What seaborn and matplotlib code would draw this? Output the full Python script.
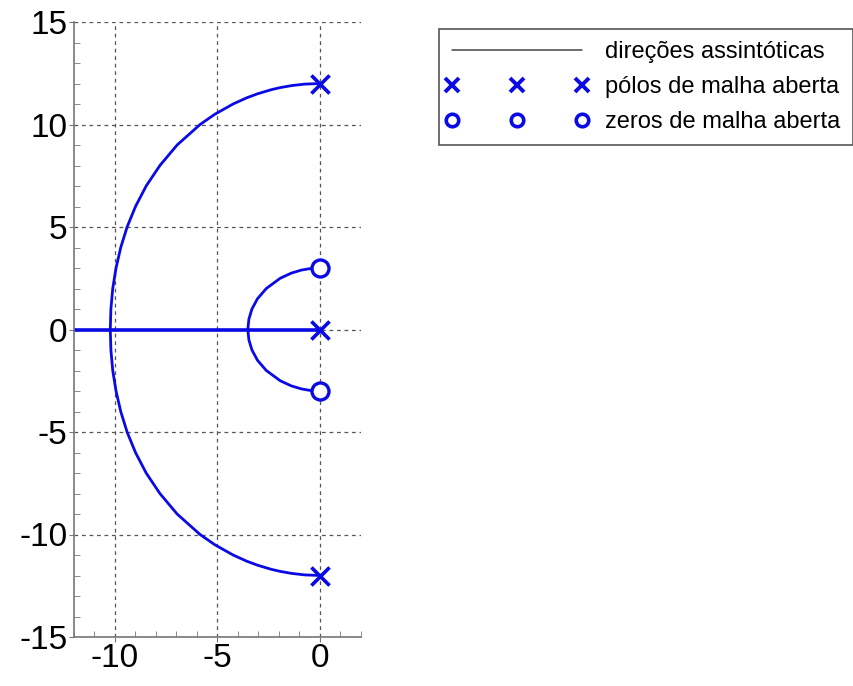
import numpy as np
import pandas as pd
import matplotlib
matplotlib.use("Agg")
import matplotlib.pyplot as plt
from matplotlib.lines import Line2D
from matplotlib.legend_handler import HandlerLine2D
from matplotlib.ticker import MultipleLocator
import seaborn as sns

big_y = [0.0, 1.0, 2.0, 3.0, 4.0, 5.0, 6.0, 7.0, 8.0, 9.0, 10.0, 10.5, 11.0,
         11.3, 11.5, 11.7, 11.8, 11.9, 11.97, 12.0]
big_x = [-10.23, -10.2, -10.11, -9.95, -9.72, -9.41, -9.0, -8.48, -7.81, -6.97,
         -5.85, -5.13, -4.24, -3.58, -3.04, -2.37, -1.94, -1.37, -0.75, 0.0]
big_y_low = [-0.0, -1.0, -2.0, -3.0, -4.0, -5.0, -6.0, -7.0, -8.0, -9.0, -10.0,
             -10.5, -11.0, -11.3, -11.5, -11.7, -11.8, -11.9, -11.97, -12.0]

# ramo pequeno (zeros +-3j -> eixo real em ~-3.52)
small_y = [0.0, 0.5, 1.0, 1.5, 2.0, 2.5, 2.75, 2.9, 2.97, 3.0]
small_x = [-3.52, -3.47, -3.32, -3.05, -2.62, -1.94, -1.4, -0.9, -0.49, 0.0]
small_y_low = [-0.0, -0.5, -1.0, -1.5, -2.0, -2.5, -2.75, -2.9, -2.97, -3.0]

# eixo real
real_x = [-12.0, 0.0]
real_y = [0.0, 0.0]

poles_x = [0.0, 0.0, 0.0]
poles_y = [12.0, 0.0, -12.0]
zeros_x = [0.0, 0.0]
zeros_y = [3.0, -3.0]

legend_labels = ["direções assintóticas", "pólos de malha aberta",
                 "zeros de malha aberta"]

sns.set_style("ticks")
plt.rcParams["font.family"] = ["Liberation Sans", "DejaVu Sans"]
plt.rcParams["axes.unicode_minus"] = False

blue = "#0a0ae6"

fig = plt.figure(figsize=(8.54, 6.86), dpi=100)
ax = fig.add_axes([74 / 854, 49 / 686, 287 / 854, 615 / 686])

branches = [
    (big_x, big_y), (big_x, big_y_low),
    (small_x, small_y), (small_x, small_y_low),
]
for bx, by in branches:
    df = pd.DataFrame({"x": bx, "y": by})
    sns.lineplot(data=df, x="x", y="y", sort=False, estimator=None,
                 color=blue, linewidth=2, ax=ax)

ax.plot(real_x, real_y, color="black", linewidth=0.8)
sns.lineplot(x=real_x, y=real_y, sort=False, estimator=None,
             color=blue, linewidth=2.6, ax=ax)

sns.scatterplot(x=poles_x, y=poles_y, marker="x", s=170, color=blue,
                linewidth=2.6, ax=ax, zorder=5)
ax.scatter(zeros_x, zeros_y, marker="o", s=150, facecolors="white",
           edgecolors=blue, linewidths=2.4, zorder=5)

ax.set_xlim(-12, 2)
ax.set_ylim(-15, 15)
ax.set_xticks([-10, -5, 0])
ax.set_yticks([-15, -10, -5, 0, 5, 10, 15])
ax.xaxis.set_minor_locator(MultipleLocator(1))
ax.yaxis.set_minor_locator(MultipleLocator(1))
ax.set_xlabel("")
ax.set_ylabel("")

ax.grid(True, which="major", linestyle=(0, (3, 3)), color="#555555", linewidth=0.9)
ax.tick_params(which="major", direction="out", length=3.5, labelsize=24,
               color="#777777", labelcolor="black", pad=1)
ax.tick_params(which="minor", direction="in", length=4, color="#777777")
for side in ["top", "right"]:
    ax.spines[side].set_visible(False)
for side in ["left", "bottom"]:
    ax.spines[side].set_color("#777777")
    ax.spines[side].set_linewidth(1.2)

handles = [
    Line2D([], [], color="#444444", linewidth=1.1),
    Line2D([], [], color=blue, linestyle="none", marker="x", markersize=10.5,
           markeredgewidth=2.8),
    Line2D([], [], color=blue, linestyle="none", marker="o", markersize=9,
           markerfacecolor="white", markeredgewidth=2.6),
]
leg = fig.legend(handles, legend_labels, loc="upper left",
                 bbox_to_anchor=(439 / 854, 1 - 29 / 686),
                 numpoints=3, handlelength=5.6, handletextpad=0.95,
                 borderpad=0.5, labelspacing=0.55, fontsize=17,
                 fancybox=False, framealpha=1, borderaxespad=0,
                 handler_map={Line2D: HandlerLine2D(marker_pad=0.05)})
leg.get_frame().set_edgecolor("#555555")
leg.get_frame().set_linewidth(1.2)
for t in leg.get_texts():
    t.set_color("black")

fig.savefig("out.png", dpi=100)
